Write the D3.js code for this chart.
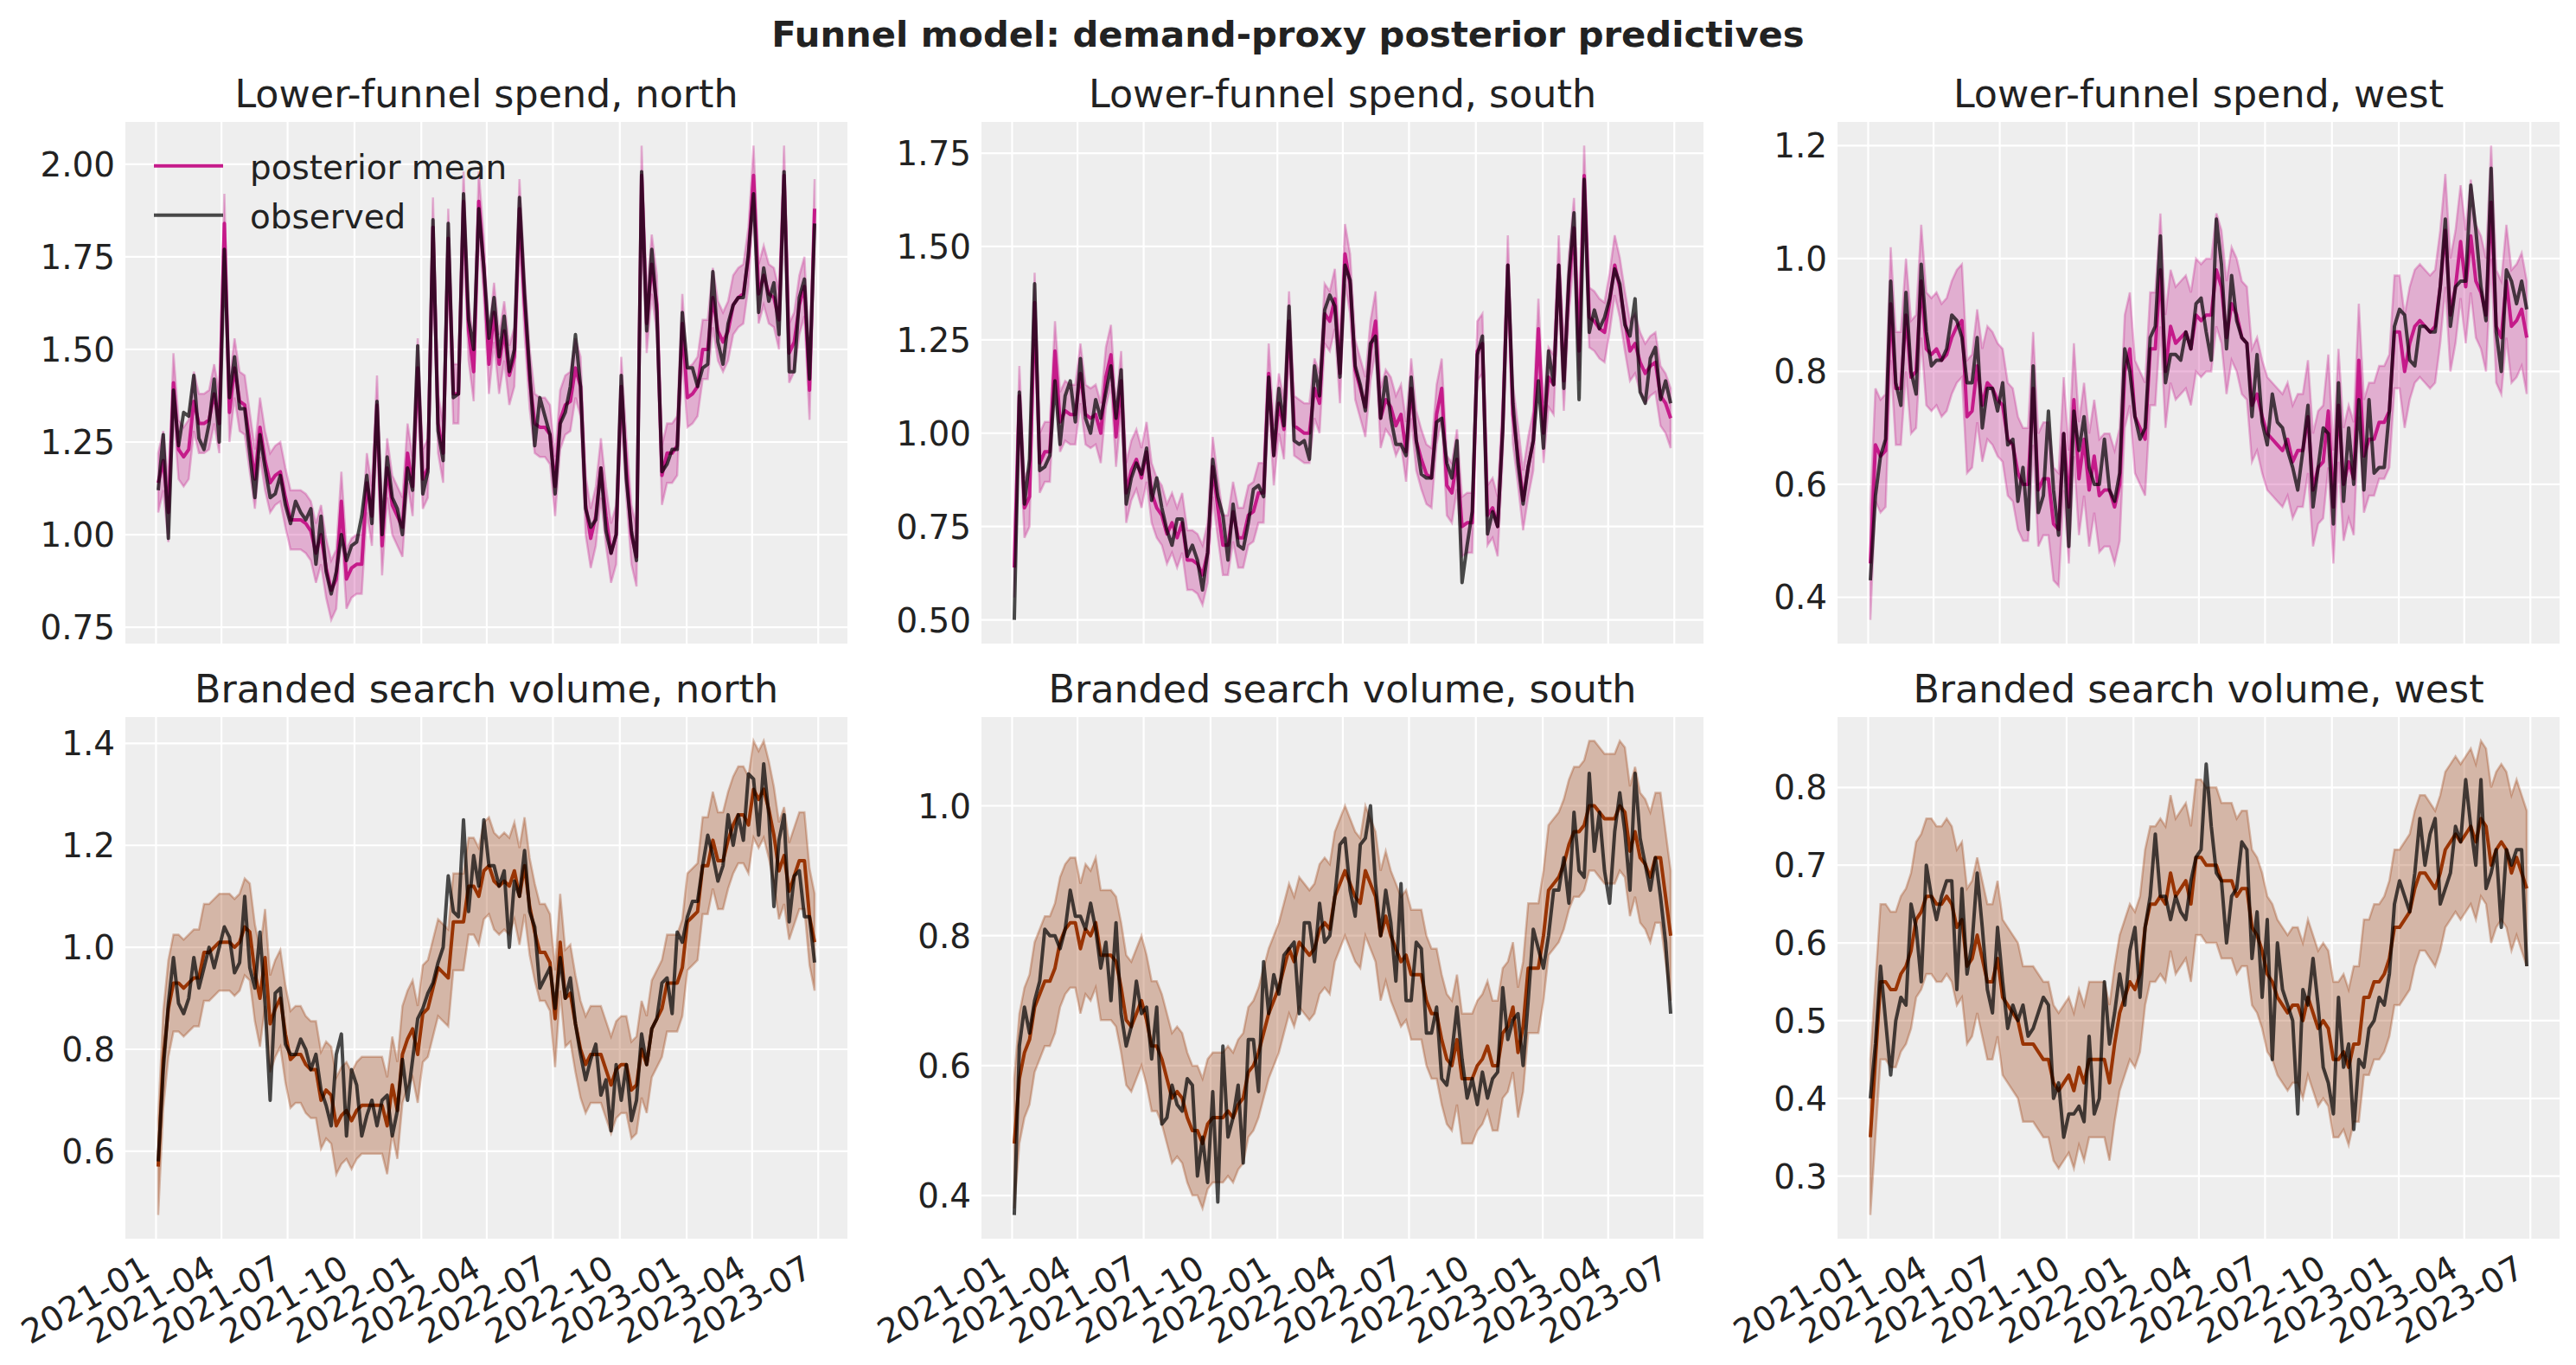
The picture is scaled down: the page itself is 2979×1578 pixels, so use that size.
<!DOCTYPE html>
<html>
<head>
<meta charset="utf-8">
<script src="https://cdn.jsdelivr.net/npm/d3@7"></script>
<style>
  body { margin: 0; background: #ffffff; }
  svg { display: block; }
  text { font-family: "DejaVu Sans", "Liberation Sans", sans-serif; fill: #222222; }
</style>
</head>
<body>
<svg id="chart" width="2979" height="1578"></svg>
<script>
// ---------------- data ----------------
const figTitle = "Funnel model: demand-proxy posterior predictives";
const panelTitles = [
  "Lower-funnel spend, north", "Lower-funnel spend, south", "Lower-funnel spend, west",
  "Branded search volume, north", "Branded search volume, south", "Branded search volume, west"
];
const legendLabels = ["posterior mean", "observed"];
const firstWeek = "2021-01-04";
const lastWeek = "2023-06-26";
const xTickLabels = ["2021-01","2021-04","2021-07","2021-10","2022-01","2022-04","2022-07","2022-10","2023-01","2023-04","2023-07"];

const yTickLabels = [
  ["0.75","1.00","1.25","1.50","1.75","2.00"],
  ["0.50","0.75","1.00","1.25","1.50","1.75"],
  ["0.4","0.6","0.8","1.0","1.2"],
  ["0.6","0.8","1.0","1.2","1.4"],
  ["0.4","0.6","0.8","1.0"],
  ["0.3","0.4","0.5","0.6","0.7","0.8"]
];

// half-width of the shaded predictive interval, read per panel
const bandHalfWidth = [0.08, 0.08, 0.10, 0.095, 0.10, 0.10];

const lfNorthMean = [
  1.14,1.20,1.06,1.41,1.23,1.21,1.23,1.36,1.30,1.30,
  1.31,1.38,1.30,1.84,1.33,1.45,1.36,1.35,1.25,1.15,
  1.29,1.20,1.14,1.16,1.17,1.10,1.04,1.04,1.04,1.03,
  1.01,0.95,1.00,0.91,0.85,0.88,1.09,0.88,0.91,0.92,
  0.92,1.14,1.05,1.35,0.97,1.18,1.08,1.05,1.02,1.22,
  1.13,1.45,1.15,1.18,1.83,1.30,1.22,1.80,1.38,1.38,
  1.90,1.55,1.44,1.90,1.72,1.46,1.60,1.46,1.55,1.43,
  1.48,1.88,1.62,1.42,1.30,1.29,1.29,1.27,1.13,1.31,
  1.35,1.36,1.45,1.40,1.08,0.99,1.05,1.18,1.05,0.95,
  1.00,1.40,1.18,1.00,0.94,1.97,1.57,1.73,1.62,1.16,
  1.22,1.22,1.24,1.57,1.37,1.38,1.40,1.50,1.50,1.64,
  1.55,1.52,1.55,1.62,1.64,1.65,1.75,1.97,1.65,1.70,
  1.65,1.64,1.58,1.97,1.49,1.52,1.62,1.67,1.39,1.88
];
const lfNorthObs = [
  1.12,1.27,0.99,1.39,1.24,1.33,1.32,1.43,1.26,1.23,
  1.30,1.42,1.25,1.77,1.37,1.48,1.34,1.34,1.22,1.10,
  1.27,1.18,1.10,1.11,1.16,1.08,1.03,1.09,1.06,1.04,
  1.07,0.92,1.05,0.90,0.84,0.90,1.00,0.93,0.97,0.98,
  1.05,1.16,1.03,1.36,1.00,1.21,1.10,1.07,1.00,1.18,
  1.12,1.51,1.11,1.17,1.85,1.28,1.20,1.84,1.37,1.38,
  1.92,1.58,1.50,1.88,1.72,1.53,1.64,1.48,1.59,1.44,
  1.50,1.91,1.65,1.44,1.24,1.37,1.32,1.27,1.11,1.30,
  1.33,1.40,1.54,1.40,1.07,1.02,1.04,1.18,1.01,0.95,
  1.00,1.43,1.15,1.01,0.93,1.98,1.55,1.77,1.60,1.17,
  1.19,1.23,1.23,1.60,1.45,1.45,1.40,1.45,1.46,1.71,
  1.52,1.46,1.57,1.62,1.64,1.64,1.76,1.92,1.60,1.72,
  1.63,1.68,1.54,1.98,1.44,1.44,1.64,1.69,1.42,1.84
];
const lfSouthMean = [
  0.64,1.10,0.80,0.83,1.35,0.92,0.95,0.95,1.22,1.03,
  1.06,1.05,1.05,1.16,1.05,1.04,1.05,1.00,1.15,1.21,
  0.99,1.14,0.84,0.90,0.93,0.88,0.95,0.84,0.80,0.78,
  0.73,0.76,0.72,0.76,0.66,0.66,0.65,0.62,0.68,0.91,
  0.80,0.70,0.70,0.79,0.72,0.72,0.78,0.79,0.84,0.84,
  1.16,0.94,1.08,1.01,1.30,1.02,1.01,1.00,1.00,1.12,
  1.08,1.32,1.30,1.36,1.16,1.48,1.40,1.17,1.12,1.07,
  1.22,1.30,1.04,1.09,1.07,1.02,1.05,0.95,1.12,0.98,
  0.93,0.89,0.88,1.05,1.12,0.86,0.84,0.93,0.75,0.76,
  0.76,1.22,1.24,0.78,0.80,0.75,1.02,1.45,1.05,0.94,
  0.82,0.91,0.98,1.28,1.00,1.15,1.13,1.45,1.14,1.40,
  1.55,1.22,1.69,1.31,1.30,1.28,1.27,1.35,1.45,1.39,
  1.30,1.22,1.24,1.19,1.16,1.18,1.19,1.10,1.08,1.04
];
const lfSouthObs = [
  0.50,1.11,0.81,0.93,1.40,0.90,0.91,0.94,1.14,0.97,
  1.10,1.14,1.03,1.20,1.04,1.00,1.09,1.04,1.11,1.18,
  1.04,1.17,0.81,0.88,0.92,0.89,0.96,0.82,0.88,0.80,
  0.74,0.70,0.77,0.77,0.67,0.70,0.66,0.58,0.68,0.93,
  0.83,0.78,0.66,0.81,0.70,0.69,0.76,0.85,0.86,0.83,
  1.15,0.94,1.12,1.02,1.34,0.98,0.97,0.98,0.93,1.18,
  1.10,1.33,1.37,1.34,1.15,1.45,1.41,1.18,1.13,1.06,
  1.24,1.26,1.04,1.15,1.04,0.97,0.97,0.94,1.15,0.98,
  0.89,0.88,0.88,1.03,1.04,0.92,0.88,0.98,0.60,0.70,
  0.79,1.21,1.26,0.73,0.79,0.75,1.01,1.45,1.08,0.92,
  0.81,0.91,0.98,1.14,0.96,1.22,1.13,1.45,1.12,1.42,
  1.59,1.09,1.68,1.27,1.33,1.28,1.31,1.36,1.44,1.40,
  1.29,1.26,1.36,1.11,1.08,1.20,1.23,1.09,1.14,1.08
];
const lfWestMean = [
  0.46,0.67,0.65,0.66,0.92,0.77,0.77,0.90,0.79,0.80,
  0.96,0.84,0.83,0.84,0.82,0.83,0.86,0.88,0.89,0.72,
  0.73,0.81,0.74,0.78,0.77,0.75,0.74,0.68,0.67,0.62,
  0.60,0.60,0.77,0.59,0.61,0.61,0.53,0.52,0.69,0.56,
  0.75,0.61,0.68,0.59,0.65,0.58,0.59,0.59,0.56,0.60,
  0.80,0.84,0.72,0.70,0.68,0.84,0.84,0.98,0.80,0.88,
  0.85,0.86,0.87,0.84,0.90,0.89,0.90,0.90,0.98,0.95,
  0.86,0.92,0.90,0.86,0.85,0.74,0.76,0.72,0.69,0.68,
  0.67,0.66,0.68,0.64,0.66,0.66,0.72,0.59,0.63,0.64,
  0.73,0.56,0.74,0.60,0.64,0.61,0.82,0.65,0.68,0.68,
  0.71,0.71,0.73,0.87,0.87,0.80,0.85,0.88,0.89,0.88,
  0.87,0.88,0.95,1.05,0.90,0.95,1.03,0.95,1.04,0.96,
  0.94,0.90,1.10,0.88,0.86,0.96,0.88,0.89,0.91,0.86
];
const lfWestObs = [
  0.43,0.58,0.65,0.68,0.96,0.78,0.74,0.94,0.80,0.76,
  0.99,0.87,0.81,0.82,0.82,0.84,0.90,0.89,0.86,0.78,
  0.78,0.86,0.70,0.77,0.77,0.73,0.78,0.67,0.68,0.57,
  0.63,0.52,0.81,0.55,0.58,0.73,0.59,0.51,0.69,0.49,
  0.73,0.66,0.72,0.63,0.60,0.60,0.68,0.59,0.57,0.62,
  0.84,0.80,0.72,0.68,0.70,0.86,0.88,1.04,0.78,0.83,
  0.83,0.82,0.87,0.84,0.92,0.93,0.87,0.82,1.07,0.99,
  0.84,0.97,0.89,0.86,0.85,0.72,0.83,0.71,0.67,0.76,
  0.71,0.70,0.66,0.63,0.59,0.66,0.74,0.56,0.63,0.70,
  0.69,0.53,0.78,0.57,0.70,0.60,0.75,0.59,0.75,0.62,
  0.63,0.63,0.73,0.88,0.91,0.90,0.82,0.81,0.88,0.88,
  0.87,0.87,0.95,1.07,0.88,0.95,0.96,0.96,1.13,1.05,
  0.95,0.89,1.16,0.87,0.80,0.98,0.96,0.92,0.96,0.91
];
const bsNorthMean = [
  0.57,0.78,0.88,0.93,0.93,0.92,0.93,0.94,0.94,0.99,
  0.99,1.00,1.01,1.01,1.01,1.00,1.01,1.04,1.03,0.95,
  0.90,0.98,0.85,0.88,0.90,0.83,0.78,0.79,0.79,0.77,
  0.76,0.76,0.70,0.72,0.71,0.65,0.67,0.68,0.66,0.68,
  0.69,0.69,0.69,0.69,0.69,0.65,0.73,0.68,0.79,0.82,
  0.84,0.79,0.87,0.88,0.92,0.96,0.95,0.94,1.05,1.05,
  1.05,1.12,1.12,1.10,1.15,1.16,1.13,1.12,1.13,1.12,
  1.15,1.10,1.16,1.08,1.03,0.99,0.99,0.97,0.86,1.01,
  0.90,0.91,0.85,0.80,0.77,0.79,0.79,0.79,0.76,0.73,
  0.76,0.77,0.77,0.72,0.73,0.80,0.77,0.84,0.86,0.88,
  0.93,0.93,0.93,0.96,1.05,1.06,1.07,1.16,1.16,1.21,
  1.17,1.17,1.21,1.24,1.26,1.26,1.24,1.31,1.29,1.31,
  1.27,1.22,1.15,1.18,1.11,1.14,1.17,1.17,1.06,1.01
];
const bsNorthObs = [
  0.58,0.76,0.89,0.98,0.89,0.87,0.90,0.98,0.92,0.96,
  1.00,0.96,1.00,1.04,1.02,0.95,0.97,1.10,0.96,0.92,
  1.03,0.89,0.70,0.91,0.92,0.81,0.79,0.79,0.82,0.80,
  0.76,0.79,0.72,0.69,0.65,0.79,0.83,0.63,0.76,0.73,
  0.63,0.67,0.70,0.65,0.70,0.71,0.63,0.68,0.78,0.70,
  0.78,0.86,0.88,0.91,0.93,0.97,1.00,1.14,1.07,1.06,
  1.25,1.07,1.18,1.12,1.25,1.16,1.16,1.12,1.15,1.00,
  1.13,1.10,1.19,1.07,1.04,0.92,0.94,0.96,0.88,0.98,
  0.90,0.94,0.85,0.79,0.74,0.78,0.81,0.71,0.74,0.64,
  0.77,0.70,0.77,0.66,0.70,0.83,0.77,0.84,0.86,0.93,
  0.94,0.87,1.03,1.01,1.06,1.09,1.09,1.16,1.22,1.18,
  1.13,1.16,1.26,1.20,1.26,1.21,1.34,1.33,1.22,1.36,
  1.26,1.08,1.21,1.26,1.05,1.14,1.15,1.06,1.06,0.97
];
const bsSouthMean = [
  0.48,0.58,0.62,0.64,0.69,0.71,0.73,0.73,0.75,0.79,
  0.81,0.82,0.82,0.78,0.81,0.80,0.82,0.77,0.77,0.77,
  0.76,0.72,0.67,0.66,0.68,0.70,0.67,0.63,0.63,0.61,
  0.58,0.55,0.56,0.55,0.52,0.50,0.50,0.48,0.51,0.52,
  0.52,0.52,0.53,0.52,0.54,0.55,0.59,0.60,0.62,0.65,
  0.68,0.70,0.72,0.75,0.78,0.76,0.79,0.78,0.77,0.78,
  0.81,0.82,0.81,0.86,0.88,0.90,0.88,0.86,0.85,0.90,
  0.88,0.86,0.80,0.83,0.80,0.78,0.76,0.77,0.74,0.74,
  0.74,0.70,0.68,0.68,0.64,0.61,0.60,0.64,0.58,0.58,
  0.58,0.60,0.61,0.63,0.60,0.60,0.65,0.66,0.69,0.62,
  0.66,0.75,0.75,0.75,0.80,0.87,0.88,0.89,0.91,0.94,
  0.96,0.96,0.97,1.00,1.00,0.99,0.98,0.98,0.98,1.00,
  0.99,0.93,0.96,0.92,0.91,0.89,0.92,0.92,0.86,0.80
];
const bsSouthObs = [
  0.37,0.63,0.69,0.65,0.70,0.73,0.81,0.80,0.80,0.78,
  0.81,0.87,0.83,0.83,0.81,0.85,0.81,0.75,0.79,0.70,
  0.82,0.68,0.63,0.66,0.73,0.68,0.69,0.61,0.69,0.51,
  0.52,0.57,0.54,0.53,0.58,0.57,0.43,0.49,0.42,0.56,
  0.39,0.63,0.49,0.52,0.57,0.45,0.64,0.64,0.56,0.76,
  0.68,0.74,0.71,0.77,0.78,0.79,0.68,0.82,0.82,0.76,
  0.85,0.79,0.80,0.86,0.94,0.95,0.87,0.83,0.94,0.95,
  1.00,0.88,0.80,0.87,0.82,0.73,0.88,0.70,0.70,0.79,
  0.78,0.65,0.65,0.69,0.58,0.57,0.62,0.69,0.61,0.55,
  0.58,0.54,0.59,0.55,0.58,0.59,0.72,0.64,0.67,0.68,
  0.60,0.70,0.81,0.78,0.75,0.80,0.87,0.87,0.92,0.85,
  0.99,0.90,0.89,1.05,0.93,0.99,0.90,0.85,0.96,1.02,
  0.96,0.87,1.05,0.95,0.91,0.87,0.92,0.86,0.79,0.68
];
const bsWestMean = [
  0.35,0.45,0.55,0.55,0.54,0.54,0.56,0.57,0.59,0.63,
  0.64,0.66,0.66,0.65,0.65,0.66,0.65,0.62,0.63,0.57,
  0.58,0.61,0.58,0.55,0.55,0.58,0.53,0.52,0.51,0.50,
  0.47,0.47,0.47,0.46,0.45,0.45,0.42,0.41,0.42,0.43,
  0.41,0.44,0.42,0.45,0.45,0.45,0.45,0.42,0.47,0.51,
  0.53,0.55,0.54,0.56,0.62,0.65,0.65,0.66,0.65,0.69,
  0.66,0.67,0.68,0.65,0.71,0.71,0.70,0.70,0.70,0.68,
  0.68,0.68,0.66,0.67,0.67,0.62,0.61,0.59,0.56,0.55,
  0.53,0.52,0.51,0.52,0.52,0.50,0.53,0.51,0.49,0.50,
  0.49,0.45,0.45,0.46,0.44,0.47,0.47,0.53,0.53,0.55,
  0.55,0.56,0.58,0.62,0.62,0.63,0.64,0.67,0.69,0.69,
  0.68,0.67,0.69,0.72,0.73,0.74,0.73,0.74,0.75,0.73,
  0.76,0.75,0.70,0.72,0.73,0.72,0.69,0.71,0.69,0.67
];
const bsWestObs = [
  0.40,0.47,0.57,0.50,0.43,0.50,0.53,0.52,0.65,0.62,
  0.55,0.70,0.66,0.63,0.66,0.68,0.68,0.54,0.67,0.56,
  0.60,0.69,0.62,0.54,0.51,0.62,0.55,0.49,0.52,0.50,
  0.52,0.48,0.49,0.51,0.53,0.52,0.40,0.42,0.35,0.38,
  0.38,0.39,0.37,0.48,0.38,0.40,0.55,0.47,0.51,0.56,
  0.52,0.59,0.62,0.53,0.62,0.66,0.74,0.66,0.66,0.63,
  0.66,0.64,0.63,0.68,0.71,0.72,0.83,0.75,0.69,0.68,
  0.60,0.66,0.67,0.73,0.72,0.58,0.64,0.53,0.63,0.45,
  0.60,0.54,0.52,0.50,0.38,0.54,0.52,0.58,0.52,0.44,
  0.42,0.38,0.53,0.44,0.47,0.36,0.45,0.44,0.49,0.50,
  0.53,0.52,0.56,0.65,0.68,0.66,0.64,0.69,0.76,0.70,
  0.74,0.76,0.65,0.67,0.69,0.75,0.73,0.81,0.75,0.70,
  0.81,0.67,0.69,0.72,0.62,0.72,0.70,0.72,0.72,0.57
];

const panelMeans = [lfNorthMean, lfSouthMean, lfWestMean, bsNorthMean, bsSouthMean, bsWestMean];
const panelObs   = [lfNorthObs,  lfSouthObs,  lfWestObs,  bsNorthObs,  bsSouthObs,  bsWestObs];
const rowColors = ["#c51b8a", "#993404"];

// ---------------- layout ----------------
const panelLeft = [145, 1135, 2125];
const panelTop = [141, 829];
const panelW = 835, panelH = 603;
const tickFont = 38.9, titleFont = 44.4, supFont = 41.7;

const svg = d3.select("#chart");
const parse = d3.utcParse("%Y-%m-%d");
const parseMonth = d3.utcParse("%Y-%m");
const t0 = parse(firstWeek), t1 = parse(lastWeek);
const dates = d3.utcMonday.range(t0, d3.utcDay.offset(t1, 1));
const span = t1 - t0;
const x = d3.scaleUtc()
  .domain([new Date(+t0 - 0.05 * span), new Date(+t1 + 0.05 * span)])
  .range([0, panelW]);
const xTicks = xTickLabels.map(parseMonth);

svg.append("text")
  .attr("x", 1489.5).attr("y", 54)
  .attr("text-anchor", "middle")
  .style("font-size", supFont + "px")
  .style("font-weight", "bold")
  .text(figTitle);

panelMeans.forEach((mean, p) => {
  const row = Math.floor(p / 3), col = p % 3;
  const obs = panelObs[p];
  const hw = bandHalfWidth[p];
  const color = rowColors[row];
  const lo = mean.map(v => v - hw), hi = mean.map(v => v + hw);
  const yMin = Math.min(d3.min(lo), d3.min(obs));
  const yMax = Math.max(d3.max(hi), d3.max(obs));
  const pad = 0.05 * (yMax - yMin);
  const y = d3.scaleLinear().domain([yMin - pad, yMax + pad]).range([panelH, 0]);

  const g = svg.append("g").attr("transform", `translate(${panelLeft[col]},${panelTop[row]})`);
  g.append("rect").attr("width", panelW).attr("height", panelH).attr("fill", "#eeeeee");

  const yTicks = yTickLabels[p].map(Number).filter(v => v >= y.domain()[0] && v <= y.domain()[1]);
  g.append("g").selectAll("line").data(yTicks).join("line")
    .attr("x1", 0).attr("x2", panelW)
    .attr("y1", d => y(d)).attr("y2", d => y(d))
    .attr("stroke", "#ffffff").attr("stroke-width", 2.2);
  g.append("g").selectAll("line").data(xTicks).join("line")
    .attr("x1", d => x(d)).attr("x2", d => x(d))
    .attr("y1", 0).attr("y2", panelH)
    .attr("stroke", "#ffffff").attr("stroke-width", 2.2);

  const area = d3.area()
    .x((d, i) => x(dates[i]))
    .y0((d, i) => y(lo[i]))
    .y1((d, i) => y(hi[i]));
  g.append("path").datum(mean).attr("d", area)
    .attr("fill", color).attr("fill-opacity", 0.3)
    .attr("stroke", color).attr("stroke-opacity", 0.3).attr("stroke-width", 2.5);

  const line = d3.line().x((d, i) => x(dates[i])).y(d => y(d));
  g.append("path").datum(mean).attr("d", line)
    .attr("fill", "none").attr("stroke", color).attr("stroke-width", 4)
    .attr("stroke-linejoin", "round");
  g.append("path").datum(obs).attr("d", line)
    .attr("fill", "none").attr("stroke", "#000000").attr("stroke-opacity", 0.7)
    .attr("stroke-width", 4).attr("stroke-linejoin", "round");

  // y tick labels
  g.append("g").selectAll("text").data(yTicks).join("text")
    .attr("x", -12).attr("y", d => y(d)).attr("dy", "0.36em")
    .attr("text-anchor", "end")
    .style("font-size", tickFont + "px")
    .text(d => yTickLabels[p][yTickLabels[p].map(Number).indexOf(d)]);

  // x tick labels on bottom row
  if (row === 1) {
    g.append("g").selectAll("text").data(xTicks).join("text")
      .attr("transform", d => `translate(${x(d) - 4.6},${panelH + 41.6}) rotate(-30)`)
      .attr("text-anchor", "end")
      .style("font-size", tickFont + "px")
      .text((d, i) => xTickLabels[i]);
  }

  g.append("text")
    .attr("x", panelW / 2).attr("y", -16.7)
    .attr("text-anchor", "middle")
    .style("font-size", titleFont + "px")
    .text(panelTitles[p]);

  if (p === 0) {
    const lg = g.append("g");
    const legColors = [{c: color, o: 1}, {c: "#000000", o: 0.7}];
    legendLabels.forEach((lab, k) => {
      const ly = 50.7 + k * 57;
      lg.append("line").attr("x1", 33).attr("x2", 113).attr("y1", ly).attr("y2", ly)
        .attr("stroke", legColors[k].c).attr("stroke-opacity", legColors[k].o).attr("stroke-width", 4);
      lg.append("text").attr("x", 144).attr("y", ly + 15)
        .style("font-size", tickFont + "px").text(lab);
    });
  }
});
</script>
</body>
</html>
